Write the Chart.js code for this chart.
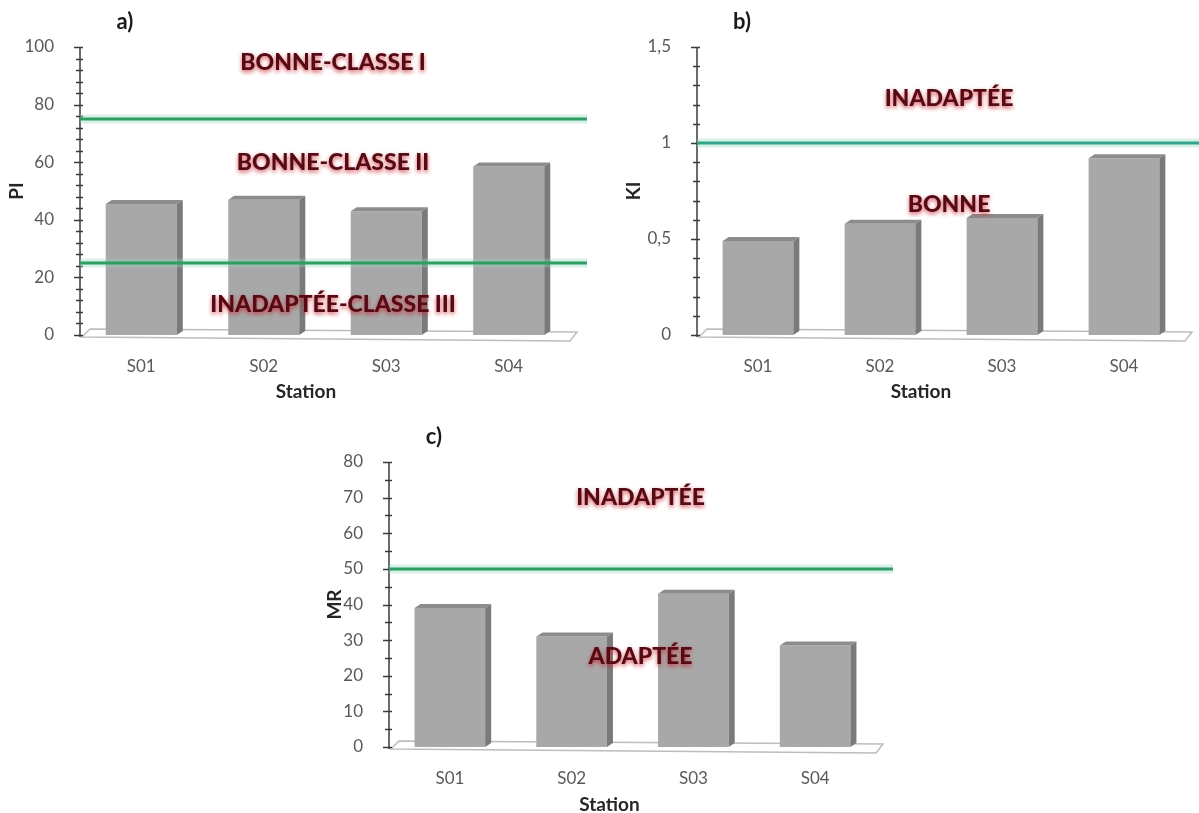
<!DOCTYPE html>
<html>
<head>
<meta charset="utf-8">
<script src="https://cdn.jsdelivr.net/npm/chart.js@4.4.1/dist/chart.umd.min.js"></script>
<style>
  html, body { margin: 0; padding: 0; background: #ffffff; width: 1199px; height: 813px; overflow: hidden; }
  .panel { position: absolute; }
</style>
</head>
<body>
<div class="panel" style="left:0px;top:0px;"><canvas id="chartPI" width="600" height="410"></canvas></div>
<div class="panel" style="left:600px;top:0px;"><canvas id="chartKI" width="599" height="410"></canvas></div>
<div class="panel" style="left:300px;top:410px;"><canvas id="chartMR" width="610" height="403"></canvas></div>
<script>
// Sampling stations shared by the three indices
const stations = ['S01', 'S02', 'S03', 'S04'];

// a) PI index
const piValues = [45.5, 47, 43, 58.5];
const piTicks = [0, 20, 40, 60, 80, 100];
const piThresholds = [75, 25];
const piZoneNames = ['BONNE-CLASSE I', 'BONNE-CLASSE II', 'INADAPTÉE-CLASSE III'];
const piZoneLevels = [94.5, 60, 10.5];

// b) KI index
const kiValues = [0.49, 0.58, 0.61, 0.92];
const kiTicks = [0, 0.5, 1, 1.5];
const kiThresholds = [1];
const kiZoneNames = ['INADAPTÉE', 'BONNE'];
const kiZoneLevels = [1.23, 0.68];

// c) MR index
const mrValues = [39, 31, 43, 28.5];
const mrTicks = [0, 10, 20, 30, 40, 50, 60, 70, 80];
const mrThresholds = [50];
const mrZoneNames = ['INADAPTÉE', 'ADAPTÉE'];
const mrZoneLevels = [70, 25.3];

const TICK_FONT = { family: 'Lato', size: 17 };
const TICK_COLOR = '#595959';

function decimalComma(v) {
  return String(v).replace('.', ',');
}

// Extra drawing: 3D floor, bar depth, axis with minor ticks, limit lines, zone captions, titles
function panelDecor(cfg) {
  return {
    id: 'decor',
    beforeDatasetsDraw(chart) {
      const { ctx, chartArea: a } = chart;
      ctx.save();
      ctx.strokeStyle = '#bdbdbd';
      ctx.lineWidth = 1.5;
      ctx.beginPath();
      ctx.moveTo(a.left + 2, a.bottom + 2);
      ctx.lineTo(a.left + 10, a.bottom - 6);
      ctx.lineTo(a.right + 7, a.bottom - 3);
      ctx.lineTo(a.right, a.bottom + 6);
      ctx.closePath();
      ctx.stroke();
      ctx.restore();
    },
    afterDatasetsDraw(chart) {
      const { ctx, chartArea: a } = chart;
      const yScale = chart.scales.y;
      ctx.save();

      // depth faces of each bar
      const meta = chart.getDatasetMeta(0);
      meta.data.forEach(bar => {
        const p = bar.getProps(['x', 'y', 'base', 'width'], true);
        const l = p.x - p.width / 2, r = p.x + p.width / 2, dx = 6, dy = -4;
        ctx.fillStyle = '#7a7a7a';
        ctx.beginPath();
        ctx.moveTo(r, p.y); ctx.lineTo(r + dx, p.y + dy);
        ctx.lineTo(r + dx, p.base + dy); ctx.lineTo(r, p.base);
        ctx.closePath(); ctx.fill();
        ctx.fillStyle = '#8c8c8c';
        ctx.beginPath();
        ctx.moveTo(l, p.y); ctx.lineTo(l + dx, p.y + dy);
        ctx.lineTo(r + dx, p.y + dy); ctx.lineTo(r, p.y);
        ctx.closePath(); ctx.fill();
      });

      // vertical axis with crossing tick marks
      ctx.strokeStyle = '#3a3a3a';
      ctx.lineWidth = 1.5;
      ctx.beginPath();
      ctx.moveTo(a.left, a.top);
      ctx.lineTo(a.left, a.bottom + 2);
      ctx.stroke();
      const steps = Math.round((cfg.max - cfg.min) / cfg.minor);
      for (let i = 0; i <= steps; i++) {
        const v = cfg.min + i * cfg.minor;
        const y = Math.round(yScale.getPixelForValue(v)) + 0.5;
        const major = cfg.ticks.some(t => Math.abs(t - v) < 1e-9);
        ctx.beginPath();
        ctx.moveTo(a.left - (major ? 6 : 4), y);
        ctx.lineTo(a.left + 3, y);
        ctx.stroke();
      }

      // limit lines between quality classes
      cfg.thresholds.forEach(t => {
        const y = yScale.getPixelForValue(t);
        ctx.strokeStyle = 'rgba(140, 215, 185, 0.35)';
        ctx.lineWidth = 9;
        ctx.beginPath(); ctx.moveTo(a.left, y); ctx.lineTo(a.right + 17, y); ctx.stroke();
        ctx.strokeStyle = cfg.lineColor;
        ctx.lineWidth = 3;
        ctx.beginPath(); ctx.moveTo(a.left, y); ctx.lineTo(a.right + 17, y); ctx.stroke();
      });

      // class captions
      const cx = (a.left + a.right) / 2 + 8;
      ctx.font = '900 23px Lato';
      ctx.textAlign = 'center';
      ctx.textBaseline = 'middle';
      cfg.zoneNames.forEach((name, i) => {
        const y = yScale.getPixelForValue(cfg.zoneLevels[i]);
        ctx.shadowColor = 'rgba(200, 35, 45, 0.8)';
        ctx.shadowBlur = 4;
        ctx.shadowOffsetY = 2;
        ctx.fillStyle = '#560a13';
        ctx.fillText(name, cx, y);
      });
      ctx.shadowColor = 'transparent';
      ctx.shadowBlur = 0;
      ctx.shadowOffsetY = 0;

      // panel letter
      ctx.fillStyle = '#1a1a1a';
      ctx.font = 'bold 22px Lato';
      ctx.fillText(cfg.letter, a.left + 45, cfg.letterY);

      // axis titles
      ctx.font = 'bold 19px Lato';
      ctx.fillStyle = '#262626';
      ctx.fillText('Station', (a.left + a.right) / 2 + cfg.stationDx, cfg.stationY);
      ctx.save();
      ctx.translate(a.left - cfg.yTitleGap, (a.top + a.bottom) / 2);
      ctx.rotate(-Math.PI / 2);
      ctx.fillText(cfg.yTitle, 0, 0);
      ctx.restore();

      ctx.restore();
    }
  };
}

function buildPanel(cfg) {
  const canvas = document.getElementById(cfg.id);
  const W = canvas.width, H = canvas.height;
  return new Chart(canvas, {
    type: 'bar',
    data: {
      labels: stations,
      datasets: [{
        data: cfg.values,
        backgroundColor: '#a8a8a8',
        borderWidth: 0,
        categoryPercentage: 1,
        barPercentage: 0.58
      }]
    },
    options: {
      responsive: false,
      animation: false,
      events: [],
      layout: { padding: { left: 0, right: W - cfg.area.right, top: cfg.area.top, bottom: 0 } },
      plugins: { legend: { display: false }, tooltip: { enabled: false }, title: { display: false } },
      scales: {
        x: {
          grid: { display: false },
          border: { display: false },
          ticks: { color: TICK_COLOR, font: TICK_FONT, padding: cfg.xPad, maxRotation: 0 },
          afterFit(s) { s.height = H - cfg.area.bottom; }
        },
        y: {
          min: cfg.min,
          max: cfg.max,
          grid: { display: false },
          border: { display: false },
          afterBuildTicks(s) { s.ticks = cfg.ticks.map(v => ({ value: v })); },
          ticks: { color: TICK_COLOR, font: TICK_FONT, padding: 18, callback: v => decimalComma(v) },
          afterFit(s) { s.width = cfg.area.left; }
        }
      }
    },
    plugins: [panelDecor(cfg)]
  });
}

buildPanel({
  id: 'chartPI', values: piValues, ticks: piTicks, min: 0, max: 100, minor: 4,
  thresholds: piThresholds, zoneNames: piZoneNames, zoneLevels: piZoneLevels,
  area: { left: 80, right: 570, top: 47, bottom: 335 },
  letter: 'a)', letterY: 22, yTitle: 'PI', yTitleGap: 63,
  stationDx: -19, stationY: 392, xPad: 13, lineColor: '#2f9d64'
});

buildPanel({
  id: 'chartKI', values: kiValues, ticks: kiTicks, min: 0, max: 1.5, minor: 0.1,
  thresholds: kiThresholds, zoneNames: kiZoneNames, zoneLevels: kiZoneLevels,
  area: { left: 97, right: 585, top: 47, bottom: 335 },
  letter: 'b)', letterY: 22, yTitle: 'KI', yTitleGap: 63,
  stationDx: -20, stationY: 392, xPad: 13, lineColor: '#35a28a'
});

buildPanel({
  id: 'chartMR', values: mrValues, ticks: mrTicks, min: 0, max: 80, minor: 5,
  thresholds: mrThresholds, zoneNames: mrZoneNames, zoneLevels: mrZoneLevels,
  area: { left: 89, right: 576, top: 52, bottom: 337 },
  letter: 'c)', letterY: 27, yTitle: 'MR', yTitleGap: 54,
  stationDx: -23, stationY: 395, xPad: 13, lineColor: '#2f9d64'
});
</script>
</body>
</html>
